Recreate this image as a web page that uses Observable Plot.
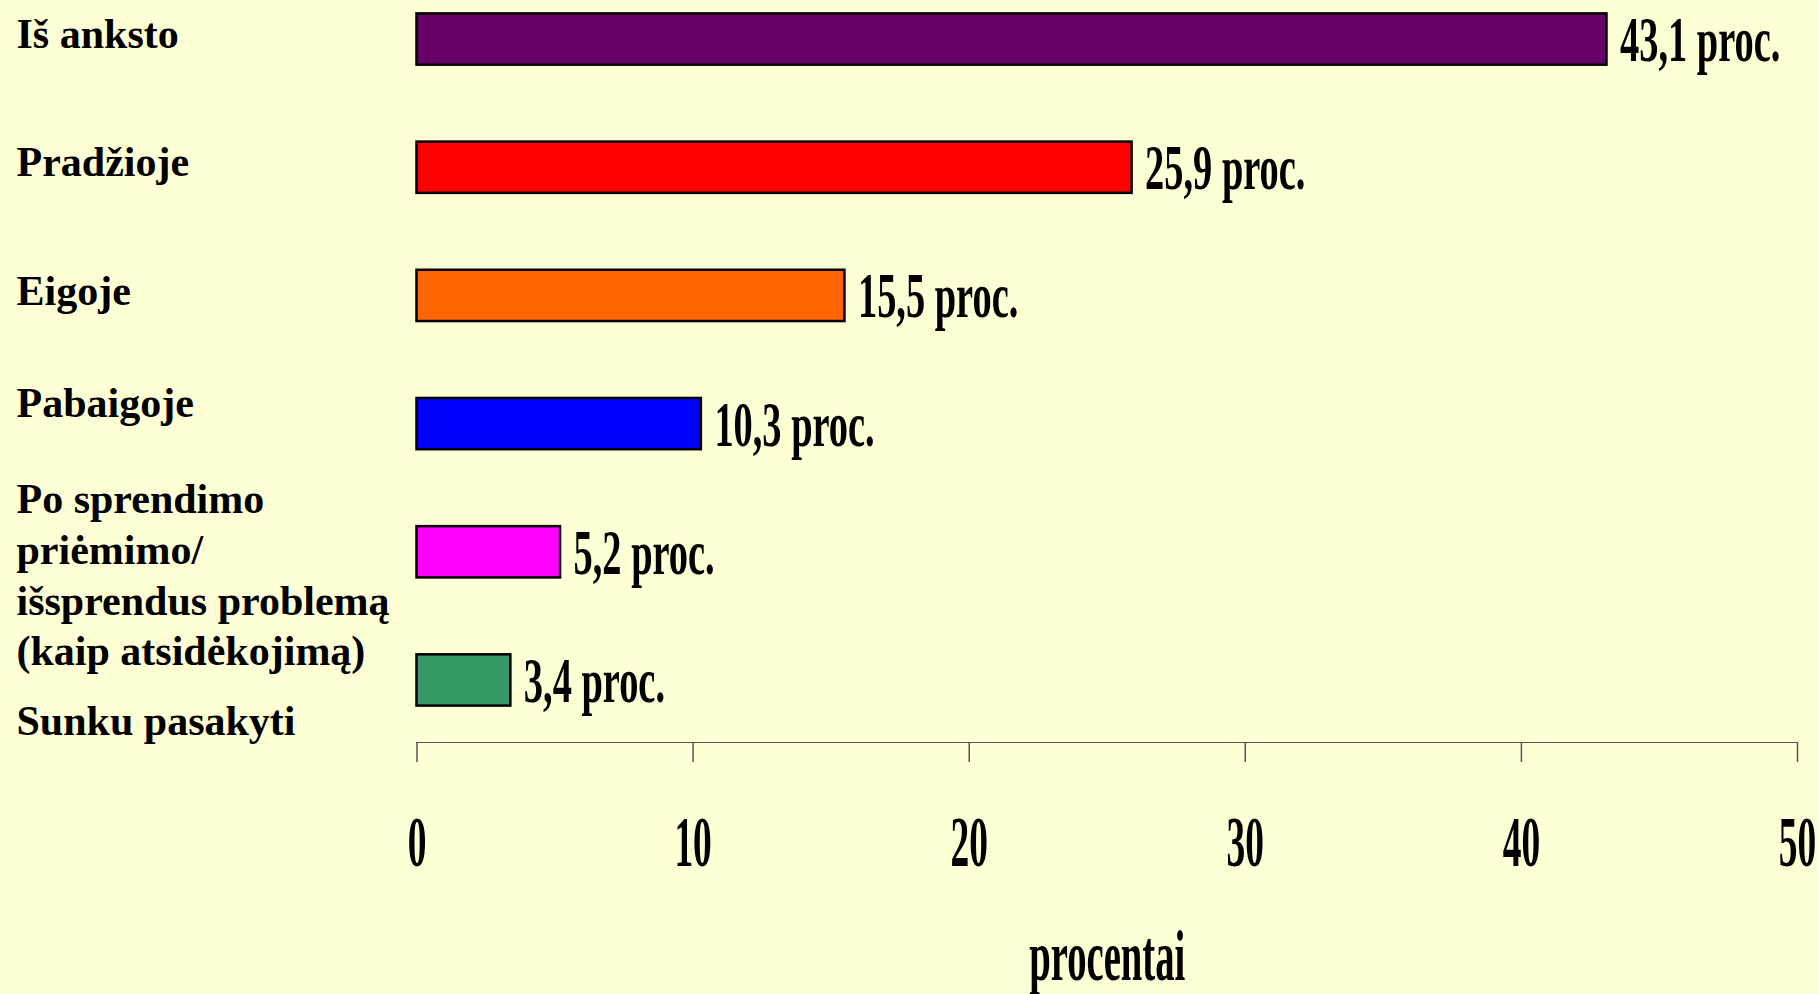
<!DOCTYPE html>
<html>
<head>
<meta charset="utf-8">
<script src="https://cdn.jsdelivr.net/npm/d3@7"></script>
<script src="https://cdn.jsdelivr.net/npm/@observablehq/plot@0.6"></script>
<style>
  html, body { margin: 0; padding: 0; background: #FFFFD5; overflow: hidden; }
</style>
</head>
<body>
<div id="chart"></div>
<script>
const categories = [
  "Iš anksto",
  "Pradžioje",
  "Eigoje",
  "Pabaigoje",
  "Po sprendimo\npriėmimo/\nišsprendus problemą\n(kaip atsidėkojimą)",
  "Sunku pasakyti"
];
const values = [43.1, 25.9, 15.5, 10.3, 5.2, 3.4];
const colors = ["#660066", "#FF0000", "#FF6600", "#0000FF", "#FF00FF", "#339966"];
const xTicks = [0, 10, 20, 30, 40, 50];
const axisLabel = "procentai";
const unit = "proc.";

const data = categories.map((c, i) => ({cat: c, value: values[i]}));
const fmt = v => v.toFixed(1).replace(".", ",") + " " + unit;

const catLabel = (subset, dy) => Plot.text(subset, {
  y: "cat", text: "cat", frameAnchor: "left", dx: -400.5, dy,
  textAnchor: "start", lineAnchor: "middle", fontSize: 42, lineHeight: 1.21,
  fill: "#000"
});

const chart = Plot.plot({
  width: 1819,
  height: 994,
  marginLeft: 416.5,
  marginRight: 22,
  marginTop: 13.4,
  marginBottom: 252,
  style: {
    background: "#FFFFD5",
    fontFamily: "'Liberation Serif', 'Times New Roman', serif",
    fontWeight: "bold",
    color: "#555",
    overflow: "visible"
  },
  x: {domain: [0, 50], ticks: xTicks, tickSize: 20, tickPadding: 52, label: null, line: true, tickFormat: d => String(d)},
  y: {domain: categories, axis: null, paddingInner: 0.6, paddingOuter: 0.142, align: 0, round: false},
  color: {domain: categories, range: colors},
  marks: [
    Plot.barX(data, {y: "cat", x: "value", fill: "cat", stroke: "#000", strokeWidth: 2.5}),
    Plot.text(data, {
      y: "cat", x: "value", text: d => fmt(d.value), textAnchor: "start",
      dx: 13, dy: 1, fontSize: 64, lineAnchor: "middle", fill: "#000"
    }),
    catLabel(data.slice(0, 3), -7.5),
    catLabel(data.slice(3, 4), -23),
    catLabel(data.slice(4, 5), 20.6),
    catLabel(data.slice(5, 6), 38.6),
    Plot.text([axisLabel], {frameAnchor: "bottom", dy: 215, fontSize: 71, lineAnchor: "middle", fill: "#000"})
  ]
});

document.getElementById("chart").appendChild(chart);

function squeeze(sel, s) {
  sel.each(function () {
    const t = this.getAttribute("transform");
    if (t) {
      this.setAttribute("transform", t + ` scale(${s},1)`);
    } else {
      const x = +this.getAttribute("x") || 0, y = +this.getAttribute("y") || 0;
      this.removeAttribute("x"); this.removeAttribute("y");
      this.setAttribute("transform", `translate(${x},${y}) scale(${s},1)`);
    }
  });
}

const svg = d3.select(chart);
squeeze(svg.selectAll('g[font-size="64"] text'), 0.6);
squeeze(svg.selectAll('g[font-size="71"] text'), 0.545);
const tickLabels = svg.selectAll('g[aria-label="x-axis tick label"]');
tickLabels.attr("font-size", 72).attr("fill", "#000").attr("font-weight", "bold");
squeeze(tickLabels.selectAll("text"), 0.52);
svg.selectAll('g[aria-label="x-axis tick"]').attr("stroke-width", 1.5);
</script>
</body>
</html>
